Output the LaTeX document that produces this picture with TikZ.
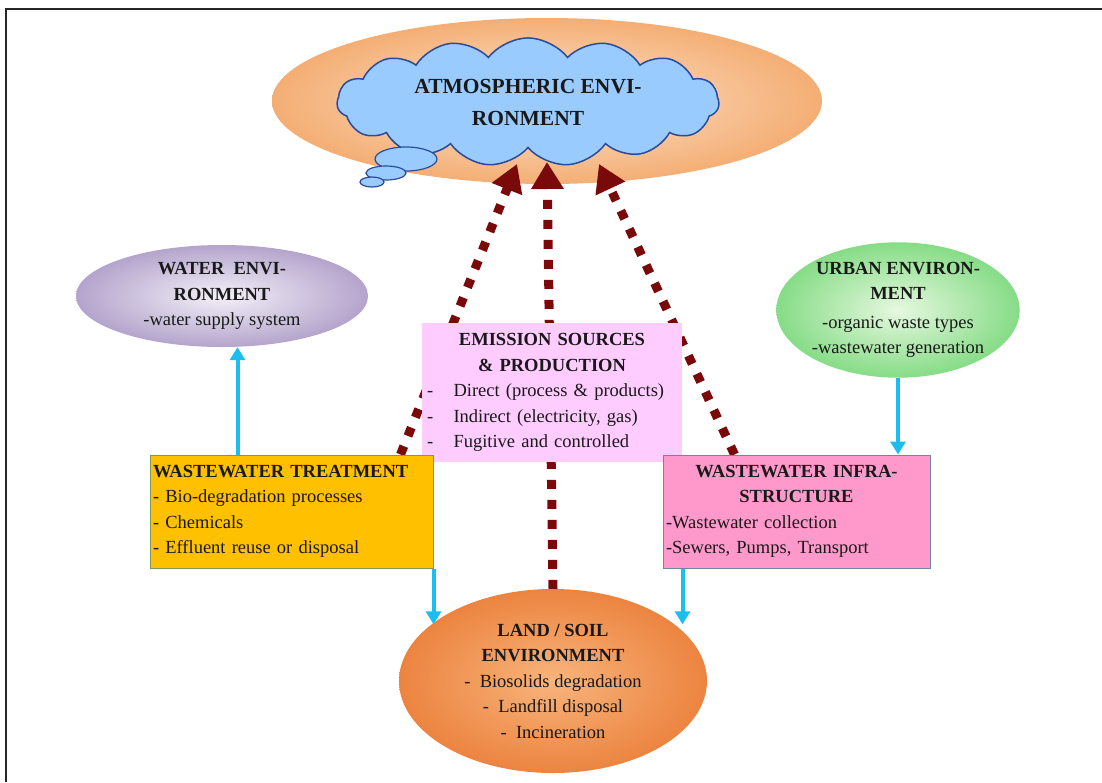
\documentclass[tikz,border=0pt]{standalone}
\usepackage{fontspec}
\setmainfont{Liberation Serif}
\usetikzlibrary{shapes.geometric,shapes.symbols,arrows.meta,calc}
\pgfdeclarelayer{back}
\pgfdeclarelayer{mid}
\pgfsetlayers{back,mid,main}
\definecolor{peach}{HTML}{F4AE74}
\definecolor{peachlight}{HTML}{FDE6D2}
\definecolor{cloudblue}{HTML}{9ACBFF}
\definecolor{cloudedge}{HTML}{2A4A9A}
\definecolor{lavender}{HTML}{B4A4CC}
\definecolor{lavlight}{HTML}{F4F0F8}
\definecolor{urbgreen}{HTML}{86DC86}
\definecolor{urblight}{HTML}{E6F8E0}
\definecolor{landout}{HTML}{EC8440}
\definecolor{landin}{HTML}{F8B47C}
\definecolor{wtfill}{HTML}{FFC000}
\definecolor{wtedge}{HTML}{7E9A5A}
\definecolor{wifill}{HTML}{FF99CC}
\definecolor{wiedge}{HTML}{6A88A4}
\definecolor{emfill}{HTML}{FFCCFF}
\definecolor{darkred}{HTML}{7A0A0A}
\definecolor{cyanarr}{HTML}{1CBEF0}
\tikzset{
  txt/.style={font=\fontsize{18.5}{25.5}\selectfont, text=black!90},
  envell/.style={ellipse, inner sep=0pt, txt, align=center},
  boxnode/.style={rectangle, inner sep=0pt, txt},
  dotarrow/.style={draw=darkred, line width=9pt, dash pattern=on 9pt off 11pt,
    -{Triangle[width=31pt,length=27pt]}},
  cyanarrow/.style={draw=cyanarr, line width=4pt, -{Triangle[width=15pt,length=13pt]}},
  bubble/.style={ellipse, draw=cloudedge, fill=cloudblue, line width=1.2pt, inner sep=0pt},
}
\begin{document}
\begin{tikzpicture}[x=1pt,y=-1pt]
\useasboundingbox (0,0) rectangle (1102,782);
\begin{pgfonlayer}{back}
\fill[white] (0,0) rectangle (1102,782);
\draw[line width=2.5pt, black!85] (6,782) -- (6,9) -- (1102,9);
\node[ellipse, minimum width=550, minimum height=166, inner color=peachlight, outer color=peach] (atm) at (547,101) {};
\node[cloud, cloud puffs=15, cloud puff arc=105, aspect=3.3, minimum width=382, minimum height=116,
  draw=cloudedge, fill=cloudblue, line width=1.5pt, txt, font=\fontsize{21.5}{32}\selectfont\bfseries, align=center, inner sep=0pt]
  (cloud) at (528,102) {ATMOSPHERIC ENVI-\\RONMENT};
\node[bubble, minimum width=62, minimum height=24] (b1) at (406,159) {};
\node[bubble, minimum width=40, minimum height=14] (b2) at (386,173) {};
\node[bubble, minimum width=24, minimum height=10] (b3) at (372,182) {};
\end{pgfonlayer}

% environment ellipses
\node[envell, minimum width=292, minimum height=102, inner color=lavlight, outer color=lavender] (water) at (222,296)
  {\textbf{WATER\ \ ENVI-}\\\textbf{RONMENT}\\-water supply system};
\node[envell, minimum width=232, minimum height=130, inner color=urblight, outer color=urbgreen] (urban) at (898,310)
  {\textbf{URBAN ENVIRON-}\\\textbf{MENT}\\[3pt]-organic waste types\\-wastewater generation};
\node[envell, minimum width=308, minimum height=184, inner color=landin, outer color=landout] (land) at (553,681)
  {\textbf{LAND / SOIL}\\\textbf{ENVIRONMENT}\\-\ \ Biosolids degradation\\-\ \ Landfill disposal\\-\ \ Incineration};

% boxes
\node[boxnode, fill=emfill, minimum width=260, minimum height=139, text width=250, align=left] (em) at (552,392.5)
  {{\centering\bfseries EMISSION SOURCES\\ \& PRODUCTION\par}
   -\hspace{1.1em}Direct (process \& products)\\
   -\hspace{1.1em}Indirect (electricity, gas)\\
   -\hspace{1.1em}Fugitive and controlled};
\node[boxnode, fill=wtfill, draw=wtedge, line width=1pt, minimum width=283, minimum height=113, text width=277, align=left] (wt) at (291.5,511.5)
  {\textbf{WASTEWATER TREATMENT}\\- Bio-degradation processes\\- Chemicals\\- Effluent reuse or disposal};
\node[boxnode, fill=wifill, draw=wiedge, line width=1pt, minimum width=267, minimum height=113, text width=261, align=left] (wi) at (796.5,511.5)
  {{\centering\bfseries WASTEWATER INFRA-\\STRUCTURE\par}
   -Wastewater collection\\-Sewers, Pumps, Transport};

% dotted emission arrows (under the boxes)
\begin{pgfonlayer}{mid}
\draw[dotarrow] ([xshift=-33pt]wt.north east) -- ($(atm.center)+(-30,63)$);
\draw[dotarrow] (land.north) -- ($(atm.center)+(0,61)$ -| land.north);
\draw[dotarrow] ([xshift=72pt]wi.north west) -- ($(atm.center)+(52,63)$);
\end{pgfonlayer}

% cyan flow arrows
\draw[cyanarrow] ([xshift=88pt]wt.north west) -- ([xshift=88pt]wt.north west |- water.south);
\draw[cyanarrow] (urban.south) -- (urban.south |- wi.north);
\draw[cyanarrow] (wt.south east) -- (wt.south east |- land.155);
\draw[cyanarrow] ([xshift=20pt]wi.south west) -- ([xshift=20pt]wi.south west |- land.25);
\end{tikzpicture}
\end{document}
